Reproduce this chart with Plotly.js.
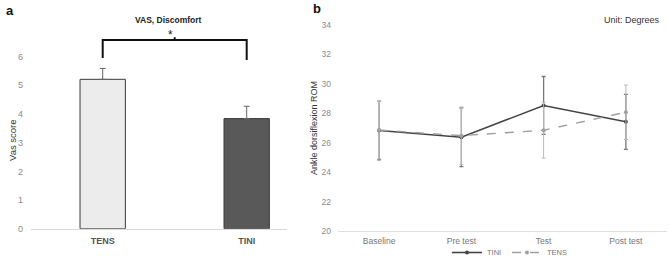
<!DOCTYPE html>
<html>
<head>
<meta charset="utf-8">
<script src="https://cdn.plot.ly/plotly-3.0.1.min.js"></script>
<style>html,body{margin:0;padding:0;background:#fff;}#chart{width:669px;height:258px;}</style>
</head>
<body>
<div id="chart"></div>
<script>
// Panel a: VAS discomfort
const vasGroups = ["TENS", "TINI"];
const vasMeans = [5.21, 3.84];
const vasErr = [0.38, 0.43];
const vasTicks = [0, 1, 2, 3, 4, 5, 6];

// Panel b: ankle dorsiflexion ROM
const timePoints = ["Baseline", "Pre test", "Test", "Post test"];
const tiniMeans = [26.83, 26.37, 28.53, 27.42];
const tiniErr = [2.0, 2.0, 1.97, 1.87];
const tensMeans = [26.86, 26.48, 26.85, 28.07];
const tensErr = [1.95, 1.95, 1.9, 1.85];
const romTicks = [20, 22, 24, 26, 28, 30, 32, 34];

const W = 669, H = 258;
const px = v => v / W;
const py = v => 1 - v / H;

const traces = [
  {
    type: "bar", x: vasGroups, y: vasMeans, xaxis: "x", yaxis: "y",
    width: 0.315,
    marker: {color: ["#ececec", "#595959"], line: {color: "#3a3a3a", width: 1}},
    error_y: {type: "data", symmetric: false, array: vasErr, arrayminus: [0, 0],
              color: "#666", thickness: 1, width: 3},
    showlegend: false, hoverinfo: "skip"
  },
  {
    type: "scatter", mode: "lines+markers", name: "TINI",
    x: timePoints, y: tiniMeans, xaxis: "x2", yaxis: "y2",
    line: {color: "#444", width: 1.6},
    marker: {color: "#444", size: 4},
    error_y: {type: "data", array: tiniErr, color: "#777", thickness: 1.3, width: 2}
  },
  {
    type: "scatter", mode: "lines+markers", name: "TENS",
    x: timePoints, y: tensMeans, xaxis: "x2", yaxis: "y2",
    line: {color: "#a0a0a0", width: 1.4, dash: "dash"},
    marker: {color: "#a0a0a0", size: 4},
    error_y: {type: "data", array: tensErr, color: "#bbb", thickness: 1, width: 2}
  }
];

const tickFont = {family: "Liberation Sans, Arial, sans-serif", size: 9, color: "#8a8a8a"};

const layout = {
  width: W, height: H,
  margin: {l: 0, r: 0, t: 0, b: 0, autoexpand: false},
  paper_bgcolor: "#fff", plot_bgcolor: "rgba(0,0,0,0)",
  showlegend: true,
  legend: {orientation: "h", x: px(507), xanchor: "center", y: -9 / H, yanchor: "bottom",
           font: {family: "Liberation Sans, Arial, sans-serif", size: 7.5, color: "#777"},
           itemwidth: 30, entrywidth: 15, tracegroupgap: 0, bgcolor: "rgba(0,0,0,0)"},
  xaxis: {
    domain: [px(31), px(287)], anchor: "y", type: "category",
    range: [-0.498, 1.28], showgrid: false, zeroline: false,
    showline: true, linecolor: "#d9d9d9", linewidth: 1.5, ticks: "",
    tickfont: {family: "Liberation Sans, Arial, sans-serif", size: 9, color: "#555", weight: "bold"},
    ticklabelstandoff: 3
  },
  yaxis: {
    domain: [py(228.7), py(28)], anchor: "x",
    range: [0, 7], tickvals: vasTicks, showgrid: false, zeroline: false,
    showline: false, ticks: "", tickfont: tickFont, ticklabelstandoff: 7
  },
  xaxis2: {
    domain: [px(338), px(667)], anchor: "y2", type: "category",
    range: [-0.5, 3.5], showgrid: false, zeroline: false,
    showline: true, linecolor: "#dedede", linewidth: 1, ticks: "",
    tickfont: {family: "Liberation Sans, Arial, sans-serif", size: 8.5, color: "#777"},
    ticklabelstandoff: 2
  },
  yaxis2: {
    domain: [py(231), py(25)], anchor: "x2",
    range: [20, 34], tickvals: romTicks, showgrid: false, zeroline: false,
    showline: false, ticks: "", tickfont: {family: "Liberation Sans, Arial, sans-serif", size: 8.5, color: "#8a8a8a"},
    ticklabelstandoff: 6
  },
  shapes: [
    {type: "path", xref: "x", yref: "y",
     path: "M 0,5.95 L 0,6.58 L 1,6.58 L 1,5.88",
     line: {color: "#111", width: 2}},
    {type: "line", xref: "x", yref: "y", x0: 0.5, x1: 0.5, y0: 6.58, y1: 6.68,
     line: {color: "#111", width: 2}}
  ],
  annotations: [
    {text: "<b>a</b>", xref: "paper", yref: "paper", x: px(4), y: py(11), xanchor: "left", yanchor: "middle",
     showarrow: false, font: {family: "Liberation Sans, Arial, sans-serif", size: 13, color: "#111"}},
    {text: "<b>b</b>", xref: "paper", yref: "paper", x: px(311), y: py(8), xanchor: "left", yanchor: "middle",
     showarrow: false, font: {family: "Liberation Sans, Arial, sans-serif", size: 13, color: "#111"}},
    {text: "<b>VAS, Discomfort</b>", xref: "paper", yref: "paper", x: px(168), y: py(20), xanchor: "center", yanchor: "middle",
     showarrow: false, font: {family: "Liberation Sans, Arial, sans-serif", size: 8.5, color: "#222"}},
    {text: "*", xref: "paper", yref: "paper", x: px(170), y: py(35), xanchor: "center", yanchor: "middle",
     showarrow: false, font: {family: "Liberation Sans, Arial, sans-serif", size: 12, color: "#222"}},
    {text: "Vas score", xref: "paper", yref: "paper", x: px(12), y: py(140), xanchor: "center", yanchor: "middle",
     textangle: -90, showarrow: false, font: {family: "Liberation Sans, Arial, sans-serif", size: 9.5, color: "#333"}},
    {text: "Ankle dorsiflexion ROM", xref: "paper", yref: "paper", x: px(314), y: py(128), xanchor: "center", yanchor: "middle",
     textangle: -90, showarrow: false, font: {family: "Liberation Sans, Arial, sans-serif", size: 9, color: "#333"}},
    {text: "Unit: Degrees", xref: "paper", yref: "paper", x: px(662), y: py(20), xanchor: "right", yanchor: "middle",
     showarrow: false, font: {family: "Liberation Sans, Arial, sans-serif", size: 9, color: "#333"}}
  ]
};

Plotly.newPlot("chart", traces, layout, {staticPlot: true, displayModeBar: false});
</script>
</body>
</html>
